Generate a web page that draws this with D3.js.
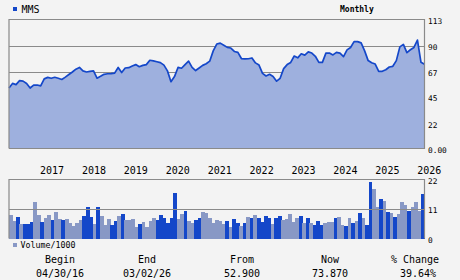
<!DOCTYPE html>
<html>
<head>
<meta charset="utf-8">
<script src="https://cdn.jsdelivr.net/npm/d3@7"></script>
<style>
  html, body { margin: 0; padding: 0; background: #f3f3f3; }
  svg text { font-family: "DejaVu Sans Mono", monospace; fill: #000; }
</style>
</head>
<body>
<div id="chart"></div>
<script>
// monthly closes, 04/2016 .. 03/2026
const prices = [
  53, 57, 56, 59.4, 59, 57, 53, 55.6, 55.6, 54.8,
  61, 62.3, 61.5, 62.4, 61.5, 60.5, 62.5, 64.8, 67, 69.5,
  71, 68, 67, 67.5, 68, 61.6, 63.2, 65, 65.5, 65.6,
  66, 71, 66.5, 70.5, 70.8, 72.3, 73.5, 71.6, 72.8, 73.5,
  77.3, 76.8, 76, 75.2, 73, 68, 58.5, 63, 71, 70.3,
  73.5, 76.5, 71, 68.3, 70.5, 72.8, 74.2, 76.5, 85.5, 91.5,
  92.3, 90.5, 88.6, 88, 85, 84.2, 78.8, 78.5, 78.6, 79.3,
  75, 73.1, 65.8, 63.5, 65, 63, 59, 61.5, 70, 73.5,
  75.4, 81, 79.4, 83, 81.8, 84.6, 83.6, 80.8, 75.5, 75.4,
  83.5, 83.6, 82, 84.2, 83.5, 80.5, 86.4, 88.5, 93.6, 93.6,
  92.5, 85.5, 77, 75.1, 74, 67.5, 67.6, 69, 71.4, 72,
  77, 89, 91.2, 84, 86.5, 88.5, 95, 75.5, 73.87
];

// volume / 1000
const volumes = [
  8.7, 6.6, 8.0, 5.4, 5.4, 5.4, 6.1, 13.6, 8.7, 6.1,
  7.6, 8.7, 6.9, 9.9, 7.2, 6.9, 7.2, 5.8, 4.6, 5.8,
  6.9, 8.4, 11.7, 8.0, 5.4, 11.7, 8.4, 5.0, 7.2, 5.0,
  6.5, 8.4, 9.1, 6.9, 6.9, 7.2, 4.3, 5.4, 6.1, 4.3,
  6.5, 7.6, 6.9, 8.7, 7.6, 5.8, 7.6, 16.9, 7.2, 9.1,
  10.2, 6.5, 5.8, 6.9, 7.6, 9.9, 9.5, 7.6, 5.8, 6.9,
  6.5, 5.4, 6.5, 4.3, 7.2, 5.8, 4.6, 5.8, 8.0, 7.6,
  8.7, 7.6, 6.1, 8.4, 7.6, 5.4, 7.6, 8.4, 6.9, 7.2,
  9.1, 6.1, 7.6, 8.4, 5.8, 7.6, 5.8, 5.0, 6.5, 5.0,
  5.8, 6.1, 6.1, 7.6, 8.0, 5.0, 4.6, 7.6, 5.8, 6.5,
  9.5, 7.6, 5.0, 21.0, 18.4, 11.7, 14.7, 13.9, 9.9, 9.5,
  8.0, 9.1, 13.6, 12.5, 10.2, 11.7, 13.6, 10.2, 16.5
];

// 1 = down month (dark bar), 0 = up month (light bar)
const volDown = [
  0, 0, 1, 0, 1, 1, 1, 0, 0, 1,
  0, 0, 1, 0, 0, 1, 0, 0, 0, 0,
  0, 1, 1, 1, 0, 1, 0, 0, 0, 1,
  1, 0, 1, 0, 0, 0, 0, 1, 0, 0,
  0, 0, 1, 1, 1, 1, 1, 1, 0, 0,
  1, 0, 0, 1, 1, 0, 0, 0, 0, 0,
  0, 0, 1, 0, 1, 1, 0, 1, 0, 1,
  0, 1, 1, 1, 1, 0, 1, 1, 0, 0,
  0, 0, 0, 1, 0, 1, 0, 1, 1, 1,
  0, 0, 0, 1, 0, 0, 1, 0, 1, 0,
  1, 0, 1, 1, 0, 0, 1, 0, 1, 0,
  1, 0, 0, 0, 1, 0, 0, 0, 1
];

const priceTicks = [0, 22, 45, 67, 90, 113];
const priceTickLabels = ["0.00", "22", "45", "67", "90", "113"];
const volTicks = [0, 11, 22];
const statLabels = ["Begin", "End", "From", "Now", "% Change"];
const statValues = ["04/30/16", "03/02/26", "52.900", "73.870", "39.64%"];

const W = 460, H = 280;
const left = 9, right = 424.5;
const pTop = 19.5, pBottom = 148.5;
const vTop = 179.5, vBottom = 238.5;

const darkBlue = "#1447c9", lightBlue = "#8898c5", areaFill = "#9eb0de";
const gridColor = "#8a8a8a";

const svg = d3.select("#chart").append("svg")
  .attr("width", W).attr("height", H);

const xi = d3.scaleLinear().domain([0, prices.length - 1]).range([left, right]);
const xb = d3.scaleBand().domain(d3.range(volumes.length)).range([left, right]).padding(0);
const xt = d3.scaleTime()
  .domain([new Date(2016, 3, 1), new Date(2026, 2, 1)])
  .range([left, right]);

const yp = d3.scaleLinear().domain([0, 113]).range([pBottom, pTop]);
const yv = d3.scaleLinear().domain([0, 22]).range([vBottom, vTop]);

// price grid
svg.append("g").selectAll("line")
  .data(priceTicks.slice(1, -1))
  .join("line")
  .attr("x1", left).attr("x2", right)
  .attr("y1", d => Math.round(yp(d)) + 0.5).attr("y2", d => Math.round(yp(d)) + 0.5)
  .attr("stroke", gridColor).attr("stroke-width", 1);

// area + line
const area = d3.area()
  .x((d, i) => xi(i))
  .y0(pBottom)
  .y1(d => yp(d));
const line = d3.line()
  .x((d, i) => xi(i))
  .y(d => yp(d));

svg.append("path").datum(prices)
  .attr("d", area).attr("fill", areaFill);
svg.append("path").datum(prices)
  .attr("d", line).attr("fill", "none")
  .attr("stroke", darkBlue).attr("stroke-width", 1.7)
  .attr("stroke-linejoin", "round");

// price frame
svg.append("path")
  .attr("d", `M${left},${pBottom}V${pTop}H${right}V${pBottom}H${left}`)
  .attr("fill", "none").attr("stroke", gridColor).attr("stroke-width", 1.2);

// price axis labels
svg.append("g").selectAll("text")
  .data(priceTicks)
  .join("text")
  .attr("x", 428)
  .attr("y", d => yp(d) + 4.2)
  .style("font-size", "7.8px")
  .text((d, i) => priceTickLabels[i]);

// year labels
svg.append("g").selectAll("text")
  .data(xt.ticks(d3.timeYear.every(1)).filter(d => d > xt.domain()[0]))
  .join("text")
  .attr("x", d => xt(d) - 0.5)
  .attr("y", 173.5)
  .style("font-size", "10px")
  .text(d => d3.timeFormat("%Y")(d));

// volume bars
svg.append("g").selectAll("rect")
  .data(volumes)
  .join("rect")
  .attr("x", (d, i) => xb(i))
  .attr("width", xb.bandwidth() + 0.3)
  .attr("y", d => yv(d))
  .attr("height", d => vBottom - yv(d))
  .attr("fill", (d, i) => volDown[i] ? darkBlue : lightBlue)
  .attr("shape-rendering", "crispEdges");

// volume grid + frame
svg.append("line")
  .attr("x1", left).attr("x2", right)
  .attr("y1", Math.round(yv(11)) + 0.5).attr("y2", Math.round(yv(11)) + 0.5)
  .attr("stroke", gridColor).attr("stroke-width", 1);
svg.append("path")
  .attr("d", `M${left},${vBottom}V${vTop}H${right}V${vBottom}`)
  .attr("fill", "none").attr("stroke", gridColor).attr("stroke-width", 1.2);

svg.append("g").selectAll("text")
  .data(volTicks)
  .join("text")
  .attr("x", 428)
  .attr("y", d => yv(d) + 4.2)
  .style("font-size", "7.8px")
  .text(d => d);

// legends
svg.append("rect").attr("x", 13).attr("y", 7).attr("width", 4).attr("height", 4).attr("fill", darkBlue);
svg.append("text").attr("x", 21.5).attr("y", 13).style("font-size", "10px").text("MMS");
svg.append("text").attr("x", 340).attr("y", 12).style("font-size", "8px").style("font-weight", "bold").text("Monthly");

svg.append("rect").attr("x", 13).attr("y", 243).attr("width", 4).attr("height", 4).attr("fill", lightBlue);
svg.append("text").attr("x", 20.5).attr("y", 248).style("font-size", "8.3px").text("Volume/1000");

// stats table
const statX = [60, 147, 242, 330, 415];
svg.append("g").selectAll("text")
  .data(statLabels)
  .join("text")
  .attr("x", (d, i) => statX[i])
  .attr("y", 262.5)
  .attr("text-anchor", "middle")
  .style("font-size", "10px")
  .text(d => d);
svg.append("g").selectAll("text")
  .data(statValues)
  .join("text")
  .attr("x", (d, i) => statX[i] + (i === 4 ? 3 : 0))
  .attr("y", 277)
  .attr("text-anchor", "middle")
  .style("font-size", "10px")
  .text(d => d);
</script>
</body>
</html>
